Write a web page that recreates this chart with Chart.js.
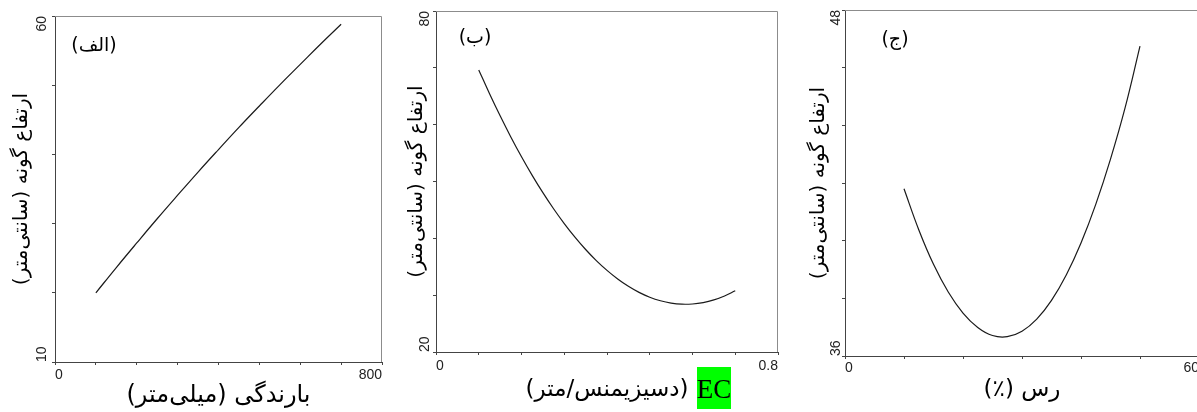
<!DOCTYPE html>
<html>
<head>
<meta charset="utf-8">
<script src="https://cdn.jsdelivr.net/npm/chart.js@4.4.1/dist/chart.umd.min.js"></script>
<style>
html,body{margin:0;padding:0;background:#fff;overflow:hidden;width:1197px;height:412px;position:relative}
canvas{position:absolute;top:0;direction:rtl}
</style>
</head>
<body>
<canvas id="c1" width="399" height="412" style="left:0px"></canvas>
<canvas id="c2" width="398" height="412" style="left:399px"></canvas>
<canvas id="c3" width="410" height="412" style="left:797px"></canvas>
<script>
// ---- data ----
const rainfallMm = [100, 150, 200, 250, 300, 350, 400, 450, 500, 550, 600, 650, 700];
const heightVsRainfall = [20.0, 23.65, 27.2, 30.7, 34.1, 37.45, 40.7, 43.9, 47.0, 50.05, 53.0, 55.95, 58.8];

const ecValues = [0.10, 0.125, 0.15, 0.175, 0.20, 0.225, 0.25, 0.275, 0.30, 0.325, 0.35, 0.375, 0.40,
                  0.425, 0.45, 0.475, 0.50, 0.525, 0.55, 0.575, 0.60, 0.625, 0.65, 0.675, 0.70];
const heightVsEC = [69.63, 65.48, 61.55, 57.84, 54.35, 51.08, 48.03, 45.20, 42.60, 40.21, 38.04, 36.09, 34.36,
                    32.85, 31.56, 30.49, 29.64, 29.01, 28.60, 28.41, 28.45, 28.70, 29.17, 29.86, 30.77];

const clayPct = [10, 12.5, 15, 17.5, 20, 22.5, 25, 27.5, 30, 32.5, 35, 37.5, 40, 42.5, 45, 47.5, 50];
const heightVsClay = [41.80, 40.38, 39.18, 38.22, 37.49, 36.99, 36.71, 36.67, 36.86, 37.28, 37.93, 38.81,
                      39.92, 41.26, 42.83, 44.63, 46.75];

// tick labels (only the end ticks are labelled)
const rainfallTickLabels = ['0', '800'];
const ecTickLabels = ['0', '0.8'];
const clayTickLabels = ['0', '60'];
const heightTickLabelsA = ['10', '60'];
const heightTickLabelsB = ['20', '80'];
const heightTickLabelsC = ['36', '48'];

// titles
const yTitle = 'ارتفاع گونه (سانتی‌متر)';
const xTitleA = 'بارندگی (میلی‌متر)';
const xTitleB = '(دسیزیمنس/متر)';
const xTitleBLatin = 'EC';
const xTitleC = 'رس (٪)';
const panelTags = ['(الف)', '(ب)', '(ج)'];

const AR_FONT = '"DejaVu Sans", "Noto Sans", sans-serif';
const NUM_FONT = '"Liberation Sans", Arial, sans-serif';

const panelDecor = {
  id: 'panelDecor',
  afterDraw(chart, args, o) {
    const ctx = chart.ctx;
    const a = chart.chartArea;
    const ys = chart.scales.y;
    ctx.save();
    // light frame on top and right
    ctx.strokeStyle = '#8c8c8c';
    ctx.lineWidth = 1;
    ctx.beginPath();
    const t = Math.round(a.top) + 0.5, r = Math.round(a.right) - 0.5;
    ctx.moveTo(a.left, t); ctx.lineTo(r, t); ctx.lineTo(r, a.bottom);
    ctx.stroke();
    // rotated y tick labels at both ends
    ctx.fillStyle = '#222';
    ctx.font = '14px ' + NUM_FONT;
    ctx.textBaseline = 'middle';
    ctx.direction = 'ltr';
    const lx = a.left - o.yLabelGap;
    ctx.save();
    ctx.translate(lx, ys.getPixelForValue(ys.min));
    ctx.rotate(-Math.PI / 2);
    ctx.textAlign = 'left';
    ctx.fillText(o.yLabels[0], 0, 0);
    ctx.restore();
    ctx.save();
    ctx.translate(lx, ys.getPixelForValue(ys.max));
    ctx.rotate(-Math.PI / 2);
    ctx.textAlign = 'right';
    ctx.fillText(o.yLabels[1], 0, 0);
    ctx.restore();
    // panel tag
    ctx.direction = 'rtl';
    ctx.fillStyle = '#000';
    ctx.font = '19px ' + AR_FONT;
    ctx.textAlign = 'center';
    ctx.textBaseline = 'middle';
    ctx.fillText(o.tag, o.tagX, o.tagY);
    // latin part of the x title with green highlight
    if (o.latin) {
      ctx.fillStyle = '#00ff00';
      ctx.fillRect(o.latin.x, o.latin.y, o.latin.w, o.latin.h);
      ctx.direction = 'ltr';
      ctx.fillStyle = '#000';
      ctx.font = '27px "Liberation Serif", "Times New Roman", serif';
      ctx.textAlign = 'center';
      ctx.textBaseline = 'alphabetic';
      ctx.fillText(o.latin.text, o.latin.x + o.latin.w / 2, o.latin.base);
    }
    ctx.restore();
  }
};

function buildPanel(id, p) {
  return new Chart(document.getElementById(id), {
    type: 'line',
    data: {
      datasets: [{
        data: p.xs.map((x, i) => ({ x: x, y: p.ys[i] })),
        borderColor: '#1a1a1a',
        borderWidth: 1.2,
        pointRadius: 0,
        fill: false,
        tension: 0.4
      }]
    },
    options: {
      responsive: false,
      animation: false,
      devicePixelRatio: 1,
      layout: { padding: { left: 0, right: p.padRight, top: p.padTop, bottom: 0 } },
      plugins: {
        legend: { display: false },
        tooltip: { enabled: false },
        panelDecor: p.decor
      },
      scales: {
        x: {
          type: 'linear', position: 'bottom',
          min: p.xMin, max: p.xMax,
          afterFit(s) { s.height = p.xAxisH; },
          ticks: {
            stepSize: p.xStep, autoSkip: false, maxRotation: 0, align: 'inner',
            padding: p.xTickPad, color: '#222',
            font: { family: NUM_FONT, size: 14 },
            callback: (v, i, t) => i === 0 ? p.xLabels[0] : (i === t.length - 1 ? p.xLabels[1] : '')
          },
          grid: { drawOnChartArea: false, drawTicks: true, tickLength: 3, color: '#444' },
          border: { display: true, color: '#444', width: 1 },
          title: {
            display: true, text: p.xTitle, color: '#000',
            font: { family: AR_FONT, size: p.xTitleSize },
            padding: { top: 0, bottom: p.xTitlePad }
          }
        },
        y: {
          type: 'linear', position: 'left',
          min: p.yMin, max: p.yMax,
          afterFit(s) { s.width = p.yAxisW; },
          ticks: { stepSize: p.yStep, display: false },
          grid: { drawOnChartArea: false, drawTicks: true, tickLength: 3, color: '#444' },
          border: { display: true, color: '#444', width: 1 },
          title: {
            display: true, text: yTitle, color: '#000',
            font: { family: AR_FONT, size: 20 },
            padding: { top: p.yTitlePad, bottom: 0 }
          }
        }
      }
    },
    plugins: [panelDecor]
  });
}

buildPanel('c1', {
  xs: rainfallMm, ys: heightVsRainfall,
  xMin: 0, xMax: 800, xStep: 100, yMin: 10, yMax: 60, yStep: 10,
  xLabels: rainfallTickLabels, xTitle: xTitleA, xTitleSize: 24,
  padTop: 16, padRight: 17, yAxisW: 55, xAxisH: 50,
  xTickPad: 2, xTitlePad: 1.5, yTitlePad: 10,
  decor: { tag: panelTags[0], tagX: 94, tagY: 46, yLabels: heightTickLabelsA, yLabelGap: 12.5 }
});

buildPanel('c2', {
  xs: ecValues, ys: heightVsEC,
  xMin: 0, xMax: 0.8, xStep: 0.1, yMin: 20, yMax: 80, yStep: 10,
  xLabels: ecTickLabels, xTitle: xTitleB, xTitleSize: 23,
  padTop: 11, padRight: 19, yAxisW: 37, xAxisH: 60,
  xTickPad: 3, xTitlePad: 8, yTitlePad: 6,
  decor: { tag: panelTags[1], tagX: 76, tagY: 38, yLabels: heightTickLabelsB, yLabelGap: 11.3,
           latin: { text: xTitleBLatin, x: 298, y: 367, w: 34, h: 42, base: 398 } }
});

buildPanel('c3', {
  xs: clayPct, ys: heightVsClay,
  xMin: 0, xMax: 60, xStep: 10, yMin: 36, yMax: 48, yStep: 2,
  xLabels: clayTickLabels, xTitle: xTitleC, xTitleSize: 23,
  padTop: 10, padRight: 8, yAxisW: 48, xAxisH: 56,
  xTickPad: 1, xTitlePad: 8, yTitlePad: 10,
  decor: { tag: panelTags[2], tagX: 98, tagY: 40, yLabels: heightTickLabelsC, yLabelGap: 9.3 }
});
</script>
</body>
</html>
